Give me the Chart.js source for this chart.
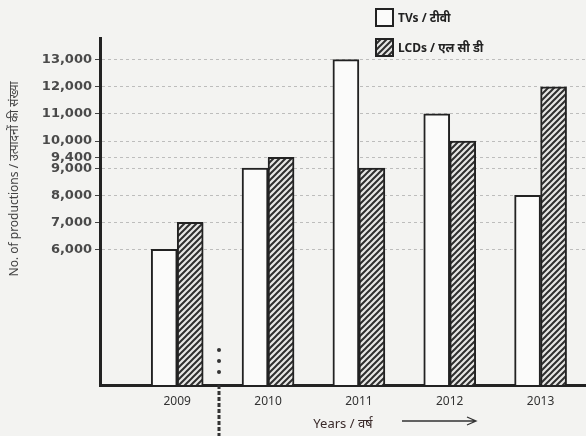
<!DOCTYPE html>
<html>
<head>
<meta charset="utf-8">
<script src="https://cdn.jsdelivr.net/npm/chart.js@4/dist/chart.umd.min.js"></script>
<style>
  html, body { margin: 0; padding: 0; background: #f3f3f1; }
  #wrap { width: 586px; height: 436px; }
</style>
</head>
<body>
<div id="wrap"><canvas id="c" width="586" height="436"></canvas></div>
<script>
const years = ['2009', '2010', '2011', '2012', '2013'];
const tvValues = [6000, 9000, 13000, 11000, 8000];
const lcdValues = [7000, 9400, 9000, 10000, 12000];
const yTickValues = [6000, 7000, 8000, 9000, 9400, 10000, 11000, 12000, 13000];
const tvLabel = 'TVs / टीवी';
const lcdLabel = 'LCDs / एल सी डी';
const xTitle = 'Years / वर्ष';
const yTitle = 'No. of productions / उत्पादनों की संख्या';

function makeHatch() {
  const s = 6;
  const c = document.createElement('canvas');
  c.width = s; c.height = s;
  const g = c.getContext('2d');
  g.fillStyle = '#e6e6e4';
  g.fillRect(0, 0, s, s);
  g.strokeStyle = '#2e2e2e';
  g.lineWidth = 2;
  g.beginPath();
  g.moveTo(0, s); g.lineTo(s, 0);
  g.moveTo(-s / 2, s / 2); g.lineTo(s / 2, -s / 2);
  g.moveTo(s / 2, s * 1.5); g.lineTo(s * 1.5, s / 2);
  g.stroke();
  return g.createPattern(c, 'repeat');
}
const hatch = makeHatch();

const FONT = "'Noto Sans', 'DejaVu Sans', sans-serif";

const decor = {
  id: 'decor',
  beforeDraw(chart) {
    const ctx = chart.ctx;
    ctx.save();
    ctx.fillStyle = '#f3f3f1';
    ctx.fillRect(0, 0, chart.width, chart.height);
    ctx.restore();
  },
  afterDraw(chart) {
    const ctx = chart.ctx;
    const xs = chart.scales.x;
    const ys = chart.scales.y;
    const area = chart.chartArea;
    ctx.save();
    // y axis title
    ctx.save();
    ctx.translate(15, ys.getPixelForValue(8600));
    ctx.rotate(-Math.PI / 2);
    ctx.fillStyle = '#444';
    ctx.font = "12px " + FONT;
    ctx.textAlign = 'center';
    ctx.textBaseline = 'middle';
    ctx.fillText(yTitle, 0, 0);
    ctx.restore();
    // legend
    const items = [
      { label: tvLabel, fill: chart.data.datasets[0].backgroundColor },
      { label: lcdLabel, fill: chart.data.datasets[1].backgroundColor }
    ];
    items.forEach((it, i) => {
      const bx = 376, by = 9 + i * 30, bs = 17;
      ctx.fillStyle = it.fill;
      ctx.fillRect(bx, by, bs, bs);
      ctx.strokeStyle = '#222';
      ctx.lineWidth = 2;
      ctx.strokeRect(bx, by, bs, bs);
      ctx.fillStyle = '#222';
      ctx.font = "bold 12px " + FONT;
      ctx.textBaseline = 'middle';
      ctx.textAlign = 'left';
      ctx.fillText(it.label, bx + bs + 5, by + bs / 2 + 1);
    });
    // axis break marker between 2009 and 2010
    const bxp = xs.getPixelForValue(0.46);
    ctx.fillStyle = '#333';
    [350, 361, 372].forEach(y => {
      ctx.beginPath(); ctx.arc(bxp, y, 2, 0, Math.PI * 2); ctx.fill();
    });
    ctx.strokeStyle = '#333';
    ctx.lineWidth = 3;
    ctx.setLineDash([4, 2]);
    ctx.beginPath();
    ctx.moveTo(bxp, area.bottom);
    ctx.lineTo(bxp, chart.height);
    ctx.stroke();
    ctx.setLineDash([]);
    // arrow after x title
    ctx.lineWidth = 1.3;
    const ay = 421, ax0 = 402, ax1 = 476;
    ctx.beginPath();
    ctx.moveTo(ax0, ay); ctx.lineTo(ax1, ay);
    ctx.moveTo(ax1 - 9, ay - 4); ctx.lineTo(ax1, ay); ctx.lineTo(ax1 - 9, ay + 4);
    ctx.stroke();
    ctx.restore();
  }
};

const chart = new Chart(document.getElementById('c'), {
  type: 'bar',
  data: {
    datasets: [
      {
        label: tvLabel,
        data: tvValues.map((v, i) => ({ x: i, y: v })),
        backgroundColor: '#fbfbfa',
        borderColor: '#222',
        borderWidth: 2,
        borderSkipped: 'bottom',
        barThickness: 26
      },
      {
        label: lcdLabel,
        data: lcdValues.map((v, i) => ({ x: i, y: v })),
        backgroundColor: hatch,
        borderColor: '#222',
        borderWidth: 2,
        borderSkipped: 'bottom',
        barThickness: 26
      }
    ]
  },
  options: {
    responsive: false,
    animation: false,
    devicePixelRatio: 1,
    layout: { padding: { top: 38, right: 0, left: 0, bottom: 0 } },
    plugins: {
      legend: { display: false },
      tooltip: { enabled: false }
    },
    scales: {
      x: {
        type: 'linear',
        min: -0.85,
        max: 4.5,
        offset: false,
        afterBuildTicks: (s) => { s.ticks = years.map((_, i) => ({ value: i })); },
        afterFit: (s) => { s.height = 51; },
        ticks: {
          autoSkip: false,
          maxRotation: 0,
          padding: 9,
          color: '#333',
          font: { family: FONT, size: 12 },
          callback: (v) => years[v]
        },
        grid: { display: false, drawTicks: false },
        border: { display: true, color: '#222', width: 3 },
        title: {
          display: true,
          text: xTitle,
          color: '#3a2a2a',
          font: { family: FONT, size: 13 },
          padding: { top: 0 }
        }
      },
      y: {
        min: 1000,
        max: 13800,
        afterBuildTicks: (s) => { s.ticks = yTickValues.map(v => ({ value: v })); },
        afterFit: (s) => { s.width = 100; },
        ticks: {
          autoSkip: false,
          padding: 3,
          color: '#4a4a4a',
          font: { family: "'DejaVu Sans', sans-serif", size: 13, weight: 'bold' },
          callback: (v) => v.toLocaleString('en-US')
        },
        grid: {
          color: 'rgba(0,0,0,0.22)',
          tickColor: '#444',
          tickLength: 5,
          lineWidth: 1,
          drawOnChartArea: true
        },
        border: { display: true, color: '#222', width: 3, dash: [3, 3] },
        title: { display: false }
      }
    }
  },
  plugins: [decor]
});
</script>
</body>
</html>
